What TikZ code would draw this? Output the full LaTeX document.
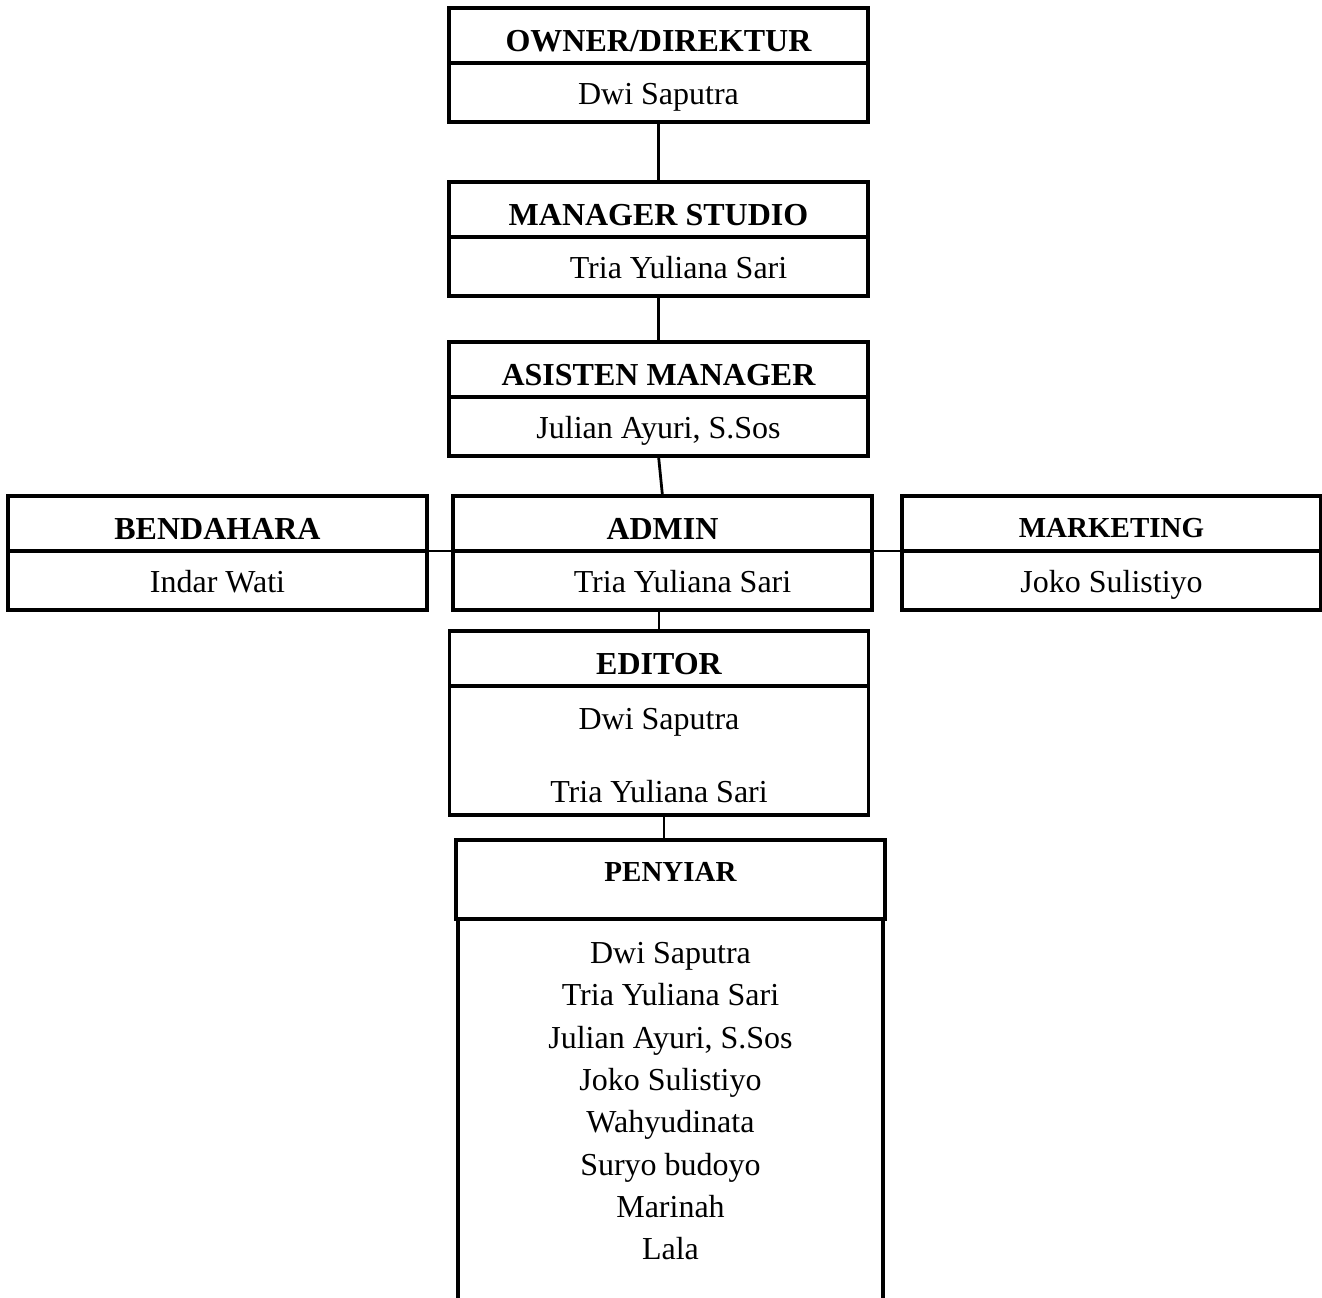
\documentclass[tikz,border=0pt]{standalone}
\usepackage{fontspec}
\setmainfont{Liberation Serif}
\usetikzlibrary{positioning}
\tikzset
{
    jabatan/.style = {rectangle, draw=black, line width=1.6pt, minimum width=209.5pt, minimum height=27.5pt, inner sep=0pt, outer sep=0pt, font=\bfseries\fontsize{16pt}{19pt}\selectfont, text height=17pt, text depth=1.4pt},
    nama/.style    = {rectangle, draw=black, line width=1.6pt, minimum width=209.5pt, minimum height=29.5pt, inner sep=0pt, outer sep=0pt, font=\fontsize{16pt}{18.25pt}\selectfont, align=center, text height=12pt, text depth=0.5pt},
    kecil/.style   = {font=\bfseries\fontsize{14.5pt}{17pt}\selectfont},
    garis/.style   = {line width=1.4pt}
}

\begin{document}
\begin{tikzpicture}
	\useasboundingbox (0,0) rectangle (661pt,-648.5pt);
	\clip (0,0) rectangle (661pt,-648.5pt);

	\node (own) [jabatan] at (329.25pt,-17.75pt) {OWNER/DIREKTUR};
	\node (own-b) [nama, below=0pt of own] {Dwi Saputra};
	\node (mgr) [jabatan, below=30pt of own-b] {MANAGER STUDIO};
	\node (mgr-b) [nama, below=0pt of mgr] {\hspace*{20pt}Tria Yuliana Sari};
	\node (asis) [jabatan, below=23pt of mgr-b] {ASISTEN MANAGER};
	\node (asis-b) [nama, below=0pt of asis] {Julian Ayuri, S.Sos};
	\node (admin) [jabatan, below=20pt of asis-b, xshift=2pt] {ADMIN};
	\node (admin-b) [nama, below=0pt of admin] {\hspace*{20pt}Tria Yuliana Sari};
	\node (bend) [jabatan, left=13pt of admin] {BENDAHARA};
	\node (bend-b) [nama, below=0pt of bend] {Indar Wati};
	\node (mkt) [jabatan, kecil, right=15pt of admin, text height=16pt, text depth=2.4pt] {MARKETING};
	\node (mkt-b) [nama, below=0pt of mkt] {Joko Sulistiyo};
	\node (edit) [jabatan, below=10.5pt of admin-b, xshift=-1.75pt] {EDITOR};
	\node (edit-b) [nama, below=0pt of edit, minimum height=64.5pt, text height=52pt, text depth=0.5pt] {Dwi Saputra\\[18.25pt]Tria Yuliana Sari};
	\node (pen) [jabatan, kecil, below=12.5pt of edit-b, xshift=5.75pt, minimum width=214.5pt, minimum height=39.5pt, text height=12pt, text depth=10pt] {PENYIAR};
	\node (penlist) [nama, below=0pt of pen, minimum width=212.5pt, minimum height=200pt] {};
	\node (names) [below=11.5pt of pen, inner sep=0pt, align=center, font=\fontsize{16pt}{21.15pt}\selectfont] {Dwi Saputra\\Tria Yuliana Sari\\Julian Ayuri, S.Sos\\Joko Sulistiyo\\Wahyudinata\\Suryo budoyo\\Marinah\\Lala};

	\draw [garis] (own-b.south) -- (mgr.north);
	\draw [garis] (mgr-b.south) -- (asis.north);
	\draw [garis] (asis-b.south) -- (admin.north);
	\draw [garis] (bend.south east) -- (admin.south west);
	\draw [garis] (admin.south east) -- (mkt.south west);
	\draw [garis] (admin-b.south -| edit.north) -- (edit.north);
	\draw [garis] ([xshift=2.5pt]edit-b.south) -- ([xshift=2.5pt]edit-b.south |- pen.north);

\end{tikzpicture}
\end{document}
